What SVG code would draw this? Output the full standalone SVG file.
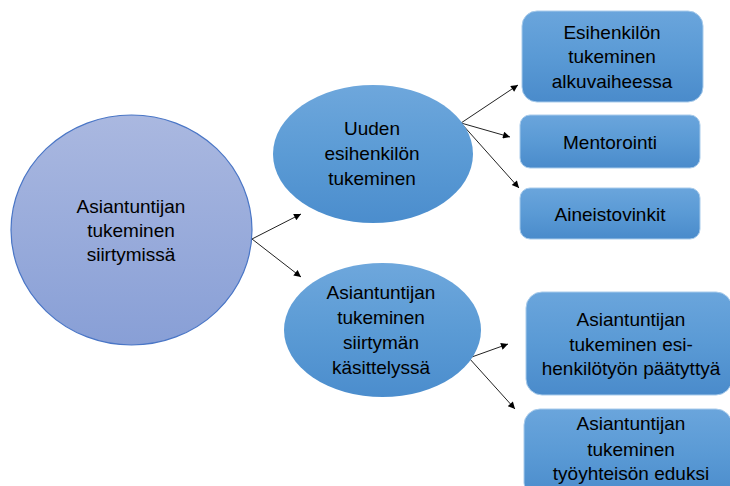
<svg xmlns="http://www.w3.org/2000/svg" width="730" height="486" viewBox="0 0 730 486">
<defs>
<linearGradient id="gBig" x1="0" y1="0" x2="0" y2="1">
<stop offset="0" stop-color="#aab8e0"/>
<stop offset="1" stop-color="#889fd6"/>
</linearGradient>
<linearGradient id="gEll" x1="0" y1="0" x2="0" y2="1">
<stop offset="0" stop-color="#6ea7dc"/>
<stop offset="0.5" stop-color="#5b9bd5"/>
<stop offset="1" stop-color="#4b8dcd"/>
</linearGradient>
<linearGradient id="gBox" x1="0" y1="0" x2="0" y2="1">
<stop offset="0" stop-color="#6aa5dc"/>
<stop offset="0.5" stop-color="#5a9ad5"/>
<stop offset="1" stop-color="#4a8bcb"/>
</linearGradient>
<marker id="arr" viewBox="0 0 10 10" refX="10" refY="5" markerWidth="9" markerHeight="7" markerUnits="userSpaceOnUse" orient="auto">
<path d="M0,0 L10,5 L0,10 z" fill="#000"/>
</marker>
</defs>
<style>
.t{font-family:"Liberation Sans",Arial,sans-serif;font-size:19px;fill:#000;text-anchor:middle}
.box{fill:url(#gBox);stroke:#a8cbeb;stroke-width:1}
.ell{fill:url(#gEll);stroke:none}
.c{stroke:#222;stroke-width:1;fill:none;marker-end:url(#arr)}
</style>
<g id="connectors">
<line class="c" x1="252" y1="239" x2="301" y2="214"/>
<line class="c" x1="252" y1="239" x2="301" y2="277"/>
<line class="c" x1="461" y1="123" x2="518" y2="85"/>
<line class="c" x1="461" y1="123" x2="510" y2="137"/>
<line class="c" x1="461" y1="123" x2="519" y2="188"/>
<line class="c" x1="469" y1="358" x2="508" y2="344"/>
<line class="c" x1="469" y1="358" x2="515" y2="409"/>
</g>
<g id="root">
<ellipse cx="131.5" cy="230" rx="120.5" ry="115" fill="url(#gBig)" stroke="#4a76c6" stroke-width="1.2"/>
<text class="t" x="131" y="213">Asiantuntijan</text>
<text class="t" x="131" y="237">tukeminen</text>
<text class="t" x="131" y="261">siirtymissä</text>
</g>
<g id="uuden">
<ellipse class="ell" cx="373" cy="154" rx="100" ry="69"/>
<text class="t" x="372" y="135">Uuden</text>
<text class="t" x="372" y="160">esihenkilön</text>
<text class="t" x="372" y="185">tukeminen</text>
</g>
<g id="siirtyman">
<ellipse class="ell" cx="382.5" cy="330" rx="98.5" ry="67"/>
<text class="t" x="381" y="299">Asiantuntijan</text>
<text class="t" x="381" y="324">tukeminen</text>
<text class="t" x="381" y="349">siirtymän</text>
<text class="t" x="381" y="374">käsittelyssä</text>
</g>
<g id="alkuvaihe">
<rect class="box" x="522" y="11" width="181" height="91" rx="15"/>
<text class="t" x="612" y="39">Esihenkilön</text>
<text class="t" x="612" y="63">tukeminen</text>
<text class="t" x="612" y="88">alkuvaiheessa</text>
</g>
<g id="mentorointi">
<rect class="box" x="520" y="115" width="180" height="53" rx="10"/>
<text class="t" x="610" y="149">Mentorointi</text>
</g>
<g id="aineisto">
<rect class="box" x="520" y="188" width="180" height="51" rx="10"/>
<text class="t" x="610" y="221">Aineistovinkit</text>
</g>
<g id="paatyttya">
<rect class="box" x="526" y="292" width="206" height="103" rx="16"/>
<text class="t" x="631" y="326">Asiantuntijan</text>
<text class="t" x="631" y="351">tukeminen esi-</text>
<text class="t" x="631" y="375">henkilötyön päätyttyä</text>
</g>
<g id="tyoyhteiso">
<rect class="box" x="524" y="409" width="208" height="90" rx="16"/>
<text class="t" x="631" y="430">Asiantuntijan</text>
<text class="t" x="631" y="456">tukeminen</text>
<text class="t" x="631" y="480">työyhteisön eduksi</text>
</g>
</svg>
